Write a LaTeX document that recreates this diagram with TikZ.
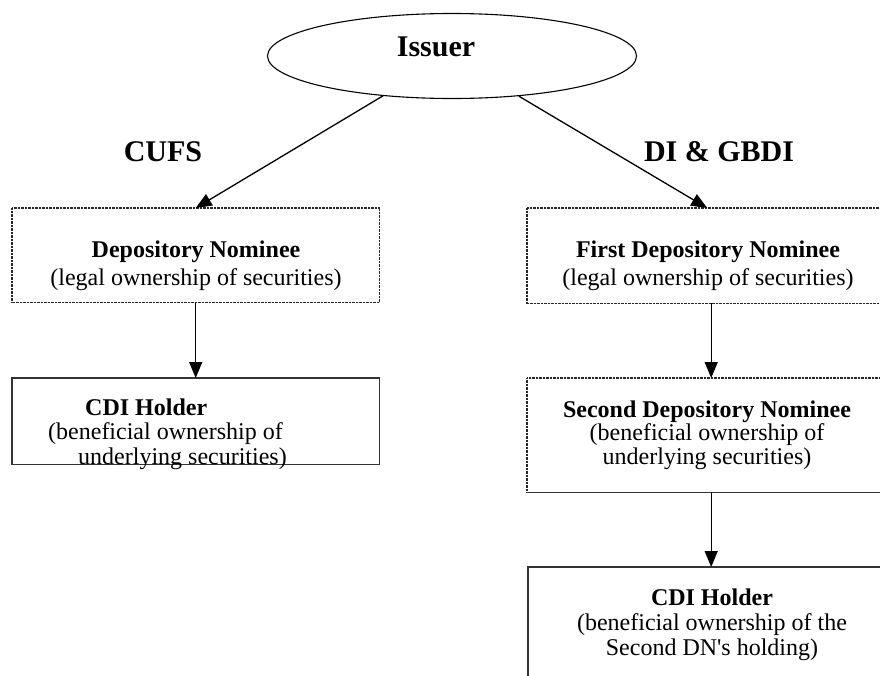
\documentclass[tikz,border=0pt]{standalone}
\usepackage{fontspec}
\setmainfont{Liberation Serif}
\usetikzlibrary{arrows.meta,shapes.geometric}
\begin{document}
\begin{tikzpicture}[x=1pt,y=-1pt,
  dotbox/.style={draw=black!85, line width=1.6pt, dash pattern=on 0.9pt off 0.5pt},
  solidbox/.style={draw=black!80, line width=1.3pt},
  boxnode/.style={rectangle, inner sep=0pt, anchor=north west},
  arr/.style={draw=black, line width=1.3pt, -{Triangle[length=16pt,width=13pt]}},
  head/.style={font=\bfseries\fontsize{30}{34}\selectfont, inner sep=0pt},
  body/.style={font=\fontsize{24}{28}\selectfont, inner sep=0pt, align=center}
]
\clip (0,0) rectangle (880,675);

% Issuer
\node[ellipse, draw=black, line width=1.1pt, minimum width=369pt, minimum height=85pt, inner sep=0pt] (issuer) at (452,56) {};
\node[head] (issuerlabel) at (436,47) {Issuer};

% headings
\node[head] (cufs) at (163,152) {CUFS};
\node[head] (digbdi) at (719,152) {DI \& GBDI};

% boxes
\node[boxnode, minimum width=367pt, minimum height=94pt] (box1) at (12,208) {};
\node[boxnode, minimum width=367pt, minimum height=86pt] (box2) at (12,378) {};
\node[boxnode, minimum width=368pt, minimum height=95pt] (box3) at (527,208) {};
\node[boxnode, minimum width=368pt, minimum height=114pt] (box4) at (527,378) {};
\node[boxnode, minimum width=368pt, minimum height=140pt] (box5) at (528,567) {};

\draw[dotbox] (box1.north west) rectangle (box1.south east);
\draw[solidbox] (box2.north west) rectangle (box2.south east);
\draw[dotbox] (box3.north west) rectangle (box3.south east);
\draw[dotbox] (box4.south west) -- (box4.north west) -- (box4.north east) -- (box4.south east);
\draw[solidbox] (box4.south west) -- (box4.south east);
\draw[solidbox] (box5.north west) rectangle (box5.south east);

% texts
\node[body] (t1) at (196,266) {\textbf{Depository Nominee}\\(legal ownership of securities)};
\node[body, align=left, anchor=west, font=\fontsize{24}{24.5}\selectfont] (t2) at (48,434)
  {\hspace*{37pt}\textbf{CDI Holder}\\(beneficial ownership of\\\hspace*{30pt}underlying securities)};
\node[body] (t3) at (708,266) {\textbf{First Depository Nominee}\\(legal ownership of securities)};
\node[body, font=\fontsize{24}{23.5}\selectfont] (t4) at (707,435)
  {\textbf{Second Depository Nominee}\\(beneficial ownership of\\underlying securities)};
\node[body, font=\fontsize{24}{25}\selectfont] (t5) at (712,625)
  {\textbf{CDI Holder}\\(beneficial ownership of the\\Second DN\textquotesingle s holding)};

% connectors
\draw[arr] (issuer.210) -- (box1.north);
\draw[arr] (issuer.329.5) -- ([xshift=-4pt]box3.north);
\draw[arr] (box1.south) -- (box2.north);
\draw[arr] (box3.south) -- (box4.north);
\draw[arr] (box4.south) -- (box5.north -| box4.south);
\end{tikzpicture}
\end{document}
